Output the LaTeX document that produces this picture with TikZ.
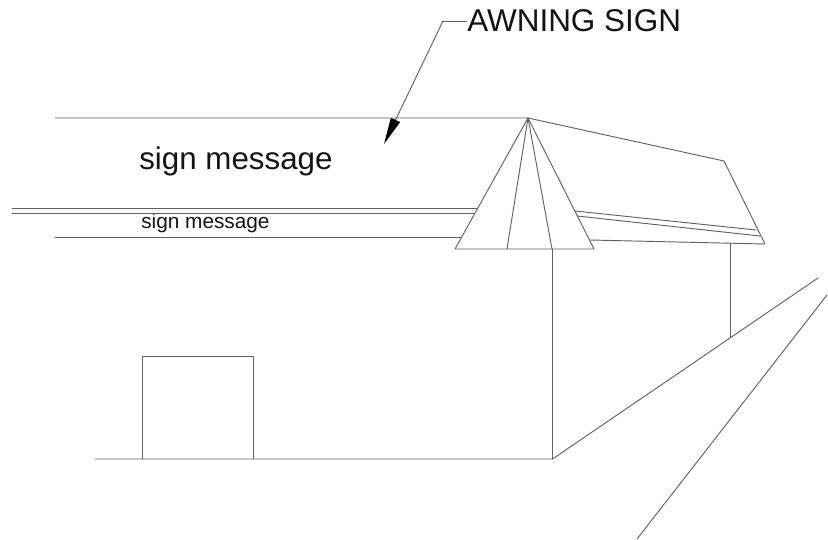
\documentclass[tikz,border=0pt]{standalone}
\usepackage{fontspec}
\setmainfont{Liberation Sans}
\usetikzlibrary{arrows.meta}
\definecolor{linegray}{gray}{0.38}
\definecolor{textblack}{gray}{0.08}
\tikzset{
  outline/.style={draw=linegray,line width=0.7pt,line cap=round,line join=round},
  label/.style={inner sep=0pt,anchor=base west,text=textblack},
  leader/.style={outline,-{Triangle[length=20pt,width=7.5pt,black]}}
}
\begin{document}
\begin{tikzpicture}[x=0.75pt,y=-0.75pt]
\useasboundingbox (0,0) rectangle (828,539);
% texts
\node[label,font=\fontsize{23.6}{26}\selectfont] (awning) at (467,31.5) {AWNING SIGN};
\node[label,font=\fontsize{23.5}{26}\selectfont] (msgA) at (139,169) {sign message};
\node[label,font=\fontsize{15.6}{18}\selectfont] (msgB) at (141,228) {sign message};
% named points
\coordinate (apex) at (528,118);
\coordinate (roofR) at (724,161);
\coordinate (eaveR) at (765,244);
\coordinate (coneL) at (455,249);
\coordinate (coneIL) at (507,249);
\coordinate (coneIR) at (552,249);
\coordinate (coneR) at (594,249);
\coordinate (elbow) at (443,21);
\coordinate (tip) at (384,144);
% leader
\draw[outline] (awning.west |- elbow) -- (elbow);
\draw[leader] (elbow) -- (tip);
% roof & awning
\draw[outline] (55,118) -- (apex) -- (roofR) -- (eaveR) -- (590,240);
\draw[outline] (apex) -- (coneL) -- (coneR) -- cycle;
\draw[outline] (apex) -- (coneIL);
\draw[outline] (apex) -- (coneIR);
\draw[outline] (575,211) -- (756,230);
\draw[outline] (577,216) -- (760,236);
\draw[outline] (12,208) -- (477,208);
\draw[outline] (12,213) -- (474,213);
\draw[outline] (55,237) -- (461,237);
% walls
\draw[outline] (552.5,249) -- (552.5,459);
\draw[outline] (730,243) -- (730,337);
\draw[outline] (95,459) -- (552.5,459) -- (818,278);
\draw[outline] (827,295) -- (637,539);
\draw[outline] (142,459) -- (142,356) -- (253,356) -- (253,459);
\end{tikzpicture}
\end{document}
